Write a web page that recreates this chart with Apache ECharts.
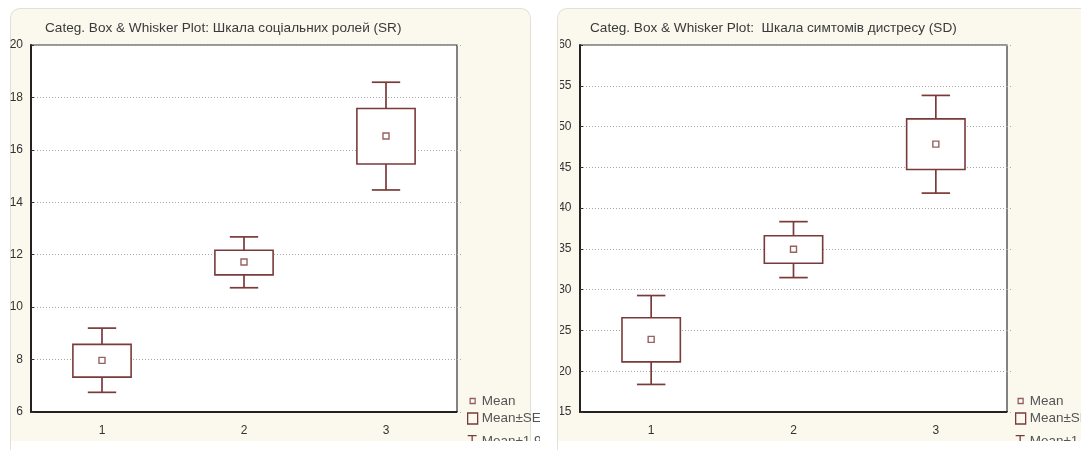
<!DOCTYPE html>
<html>
<head>
<meta charset="utf-8">
<script src="https://cdn.jsdelivr.net/npm/echarts@6/dist/echarts.min.js"></script>
<style>
html,body{margin:0;padding:0;background:#fff;width:1081px;height:450px;overflow:hidden;position:relative;font-family:'Liberation Sans',Arial,sans-serif}
.panel{position:absolute;top:8px;height:433px;background:#fbf9ee;border:1px solid #e3e1d6;border-bottom:none;border-radius:10px 10px 0 0;box-sizing:border-box}
#pL{left:10px;width:521px}
#pR{left:557px;width:540px}
.edge{position:absolute;top:441px;height:9px;width:1px;background:#e3e1d6}
#chartL{position:absolute;left:0;top:0;width:540px;height:441px}
#chartR{position:absolute;left:560px;top:0;width:521px;height:441px}
</style>
</head>
<body>
<div class="panel" id="pL"></div>
<div class="panel" id="pR"></div>
<div class="edge" style="left:10px"></div>
<div class="edge" style="left:557px"></div>
<div id="chartL"></div>
<div id="chartR"></div>
<script>
// ---- data ----
const categories = ['1', '2', '3'];

const srTitle = 'Categ. Box & Whisker Plot: Шкала соціальних ролей (SR)';
const srWhiskerLow  = [6.75, 10.74, 14.47];
const srBoxLow      = [7.33, 11.23, 15.46];
const srMean        = [7.97, 11.72, 16.53];
const srBoxHigh     = [8.58, 12.17, 17.58];
const srWhiskerHigh = [9.20, 12.68, 18.58];
const srAxis = {min: 6, max: 20, interval: 2};

const sdTitle = 'Categ. Box & Whisker Plot:  Шкала симтомів дистресу (SD)';
const sdWhiskerLow  = [18.38, 31.48, 41.84];
const sdBoxLow      = [21.15, 33.24, 44.74];
const sdMean        = [23.90, 34.95, 47.85];
const sdBoxHigh     = [26.55, 36.62, 50.94];
const sdWhiskerHigh = [29.28, 38.34, 53.82];
const sdAxis = {min: 15, max: 60, interval: 5};

const legendNames = ['Mean', 'Mean±SE', 'Mean±1.96*SE'];

// ---- styling ----
const MAROON = '#7b3a3a';
const TEXT = '#333';
const FONT = "'Liberation Sans', Arial, sans-serif";

function whiskerItem(params, api) {
  const x = api.value(0);
  const lo = api.coord([x, api.value(1)]);
  const bl = api.coord([x, api.value(2)]);
  const bh = api.coord([x, api.value(3)]);
  const hi = api.coord([x, api.value(4)]);
  const band = api.size([1, 0])[0];
  const cw = band * 0.2;
  const cx = lo[0];
  const st = {stroke: MAROON, lineWidth: 1.7, fill: null};
  return {type: 'group', children: [
    {type: 'line', shape: {x1: cx, y1: lo[1], x2: cx, y2: bl[1]}, style: st},
    {type: 'line', shape: {x1: cx, y1: bh[1], x2: cx, y2: hi[1]}, style: st},
    {type: 'line', shape: {x1: cx - cw / 2, y1: lo[1], x2: cx + cw / 2, y2: lo[1]}, style: st},
    {type: 'line', shape: {x1: cx - cw / 2, y1: hi[1], x2: cx + cw / 2, y2: hi[1]}, style: st}
  ]};
}

function boxItem(params, api) {
  const x = api.value(0);
  const bl = api.coord([x, api.value(1)]);
  const bh = api.coord([x, api.value(2)]);
  const band = api.size([1, 0])[0];
  const bw = band * 0.41;
  return {type: 'rect',
    shape: {x: bl[0] - bw / 2, y: bh[1], width: bw, height: bl[1] - bh[1]},
    style: {stroke: MAROON, lineWidth: 1.6, fill: '#fff'}};
}

function legendText(pad) {
  return {color: '#555', fontSize: 13.5, fontFamily: FONT, padding: [0, 0, 0, pad]};
}

function buildOption(cfg) {
  const whiskerData = categories.map((c, i) => [i, cfg.wl[i], cfg.bl[i], cfg.bh[i], cfg.wh[i]]);
  const boxData = categories.map((c, i) => [i, cfg.bl[i], cfg.bh[i]]);
  const meanData = categories.map((c, i) => [i, cfg.mean[i]]);
  const bx = cfg.legBoxLeft;
  return {
    animation: false,
    textStyle: {fontFamily: FONT},
    title: {
      text: cfg.title, left: cfg.titleLeft, top: 21, padding: 0,
      textStyle: {fontSize: 13.6, fontWeight: 'normal', color: '#3a3a3a', fontFamily: FONT}
    },
    legend: [
      {data: [{name: legendNames[0], icon: 'rect', itemStyle: {color: '#fff', borderColor: MAROON, borderWidth: 1.3}}],
       left: bx + 2.5, top: 394, padding: 0, itemWidth: 5, itemHeight: 5, textStyle: legendText(1.5), selectedMode: false},
      {data: [{name: legendNames[1], icon: 'rect', itemStyle: {color: 'rgba(0,0,0,0)', borderColor: MAROON, borderWidth: 1.3}}],
       left: bx, top: 411.5, padding: 0, itemWidth: 10, itemHeight: 11, textStyle: legendText(-1), selectedMode: false},
      {data: [{name: legendNames[2], icon: 'path://M0,0 L10,0 M5,0 L5,12', itemStyle: {color: 'rgba(0,0,0,0)', borderColor: MAROON, borderWidth: 1.3}}],
       left: bx, top: 434, padding: 0, itemWidth: 9, itemHeight: 12, textStyle: legendText(0), selectedMode: false}
    ],
    grid: {
      left: cfg.gridLeft, right: cfg.gridRight, top: 45, bottom: 29,
      containLabel: false, outerBoundsMode: 'none',
      show: true, backgroundColor: '#fff', borderColor: '#333', borderWidth: 1.2
    },
    xAxis: [
      {type: 'category', data: categories, boundaryGap: true, position: 'bottom',
       axisLine: {lineStyle: {color: '#222', width: 2}},
       axisTick: {alignWithLabel: true, inside: true, length: 4, lineStyle: {color: '#333'}},
       axisLabel: {color: TEXT, fontSize: 12, margin: 13, fontFamily: FONT},
       splitLine: {show: false}},
      {type: 'category', data: categories, boundaryGap: true, position: 'top',
       axisLine: {show: false},
       axisTick: {alignWithLabel: true, inside: true, length: 4, lineStyle: {color: '#333'}},
       axisLabel: {show: false}, splitLine: {show: false}}
    ],
    yAxis: [
      {type: 'value', min: cfg.axis.min, max: cfg.axis.max, interval: cfg.axis.interval,
       axisLine: {show: true, lineStyle: {color: '#222', width: 2}},
       axisTick: {show: true, inside: true, length: 3, lineStyle: {color: '#333'}},
       axisLabel: {color: TEXT, fontSize: 12, margin: cfg.labelMargin, fontFamily: FONT},
       splitLine: {show: true, lineStyle: {color: '#a8a8a8', type: [1, 2], width: 1}}},
      {type: 'value', min: cfg.axis.min, max: cfg.axis.max, interval: cfg.axis.interval, position: 'right',
       axisLine: {show: false},
       axisTick: {show: true, inside: false, length: 5, lineStyle: {color: '#aaa', type: [1, 2]}},
       axisLabel: {show: false}, splitLine: {show: false}}
    ],
    series: [
      {name: legendNames[2], type: 'custom', renderItem: whiskerItem, data: whiskerData,
       encode: {x: 0, y: [1, 2, 3, 4]}, itemStyle: {color: MAROON}, z: 2},
      {name: legendNames[1], type: 'custom', renderItem: boxItem, data: boxData,
       encode: {x: 0, y: [1, 2]}, itemStyle: {color: MAROON}, z: 3},
      {name: legendNames[0], type: 'scatter', data: meanData, symbol: 'rect', symbolSize: 6,
       itemStyle: {color: '#fff', borderColor: MAROON, borderWidth: 1.4}, z: 4}
    ]
  };
}

const chartL = echarts.init(document.getElementById('chartL'), null, {renderer: 'canvas'});
chartL.setOption(buildOption({
  title: srTitle, titleLeft: 45, gridLeft: 31, gridRight: 83, axis: srAxis, labelMargin: 8, legBoxLeft: 467,
  wl: srWhiskerLow, bl: srBoxLow, mean: srMean, bh: srBoxHigh, wh: srWhiskerHigh
}));

const chartR = echarts.init(document.getElementById('chartR'), null, {renderer: 'canvas'});
chartR.setOption(buildOption({
  title: sdTitle, titleLeft: 30, gridLeft: 20, gridRight: 74, axis: sdAxis, labelMargin: 8.5, legBoxLeft: 455,
  wl: sdWhiskerLow, bl: sdBoxLow, mean: sdMean, bh: sdBoxHigh, wh: sdWhiskerHigh
}));
</script>
</body>
</html>
